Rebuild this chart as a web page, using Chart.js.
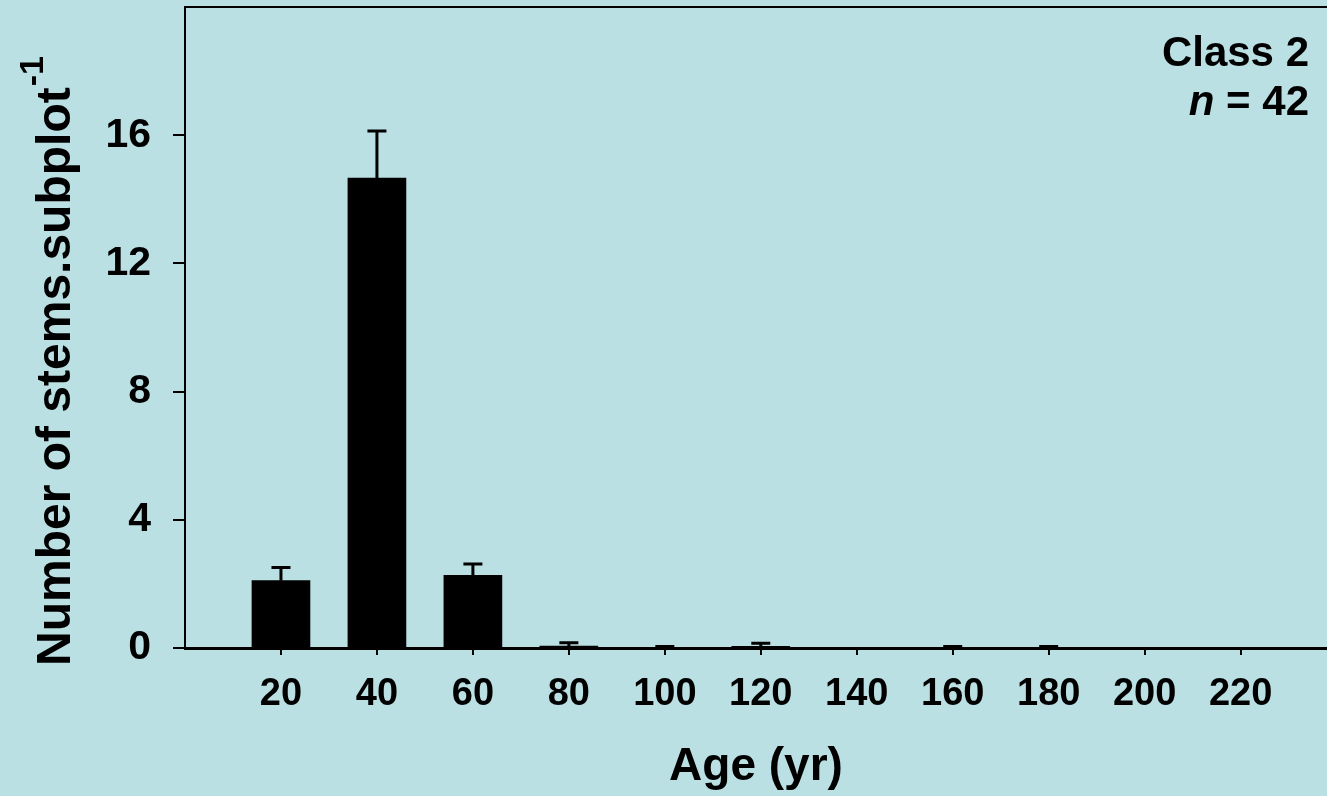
<!DOCTYPE html>
<html>
<head>
<meta charset="utf-8">
<script src="https://cdn.jsdelivr.net/npm/chart.js@4"></script>
<style>
  html, body { margin: 0; padding: 0; background: #bbe0e3; overflow: hidden; }
  #wrap { width: 1327px; height: 796px; position: relative; }
</style>
</head>
<body>
<div id="wrap"><canvas id="stemsChart"></canvas></div>
<script>
// Stems per subplot by age class (Class 2, n = 42)
const ages = [20, 40, 60, 80, 100, 120, 140, 160, 180, 200, 220];
const meanStems = [2.1, 14.66, 2.27, 0.06, 0, 0.05, 0, 0, 0, 0, 0];
const stdErrors = [0.41, 1.47, 0.35, 0.1, 0.05, 0.1, 0, 0.05, 0.05, 0, 0];
const xTickValues = [20, 40, 60, 80, 100, 120, 140, 160, 180, 200, 220];
const yTickValues = [0, 4, 8, 12, 16];

const FONT = '"Liberation Sans", Arial, Helvetica, sans-serif';

// error bars drawn on top of the bars
const errorBarPlugin = {
    id: 'errorBars',
    afterDatasetsDraw(chart) {
        const ctx = chart.ctx;
        const xs = chart.scales.x;
        const ys = chart.scales.y;
        ctx.save();
        ctx.strokeStyle = '#000';
        ctx.lineWidth = 3;
        ages.forEach((age, i) => {
            const err = stdErrors[i];
            if (!err) return;
            const px = xs.getPixelForValue(age);
            const yBase = ys.getPixelForValue(meanStems[i]);
            const yTop = ys.getPixelForValue(meanStems[i] + err);
            ctx.beginPath();
            ctx.moveTo(px, yBase);
            ctx.lineTo(px, yTop);
            ctx.moveTo(px - 9.5, yTop);
            ctx.lineTo(px + 9.5, yTop);
            ctx.stroke();
        });
        ctx.restore();
    }
};

// y title with superscript, and the class label in the corner
const labelsPlugin = {
    id: 'extraLabels',
    afterDraw(chart) {
        const ctx = chart.ctx;
        const area = chart.chartArea;
        ctx.save();
        ctx.fillStyle = '#000';

        // y axis title
        ctx.save();
        ctx.translate(70, 666);
        ctx.rotate(-Math.PI / 2);
        ctx.textAlign = 'left';
        ctx.textBaseline = 'alphabetic';
        ctx.font = 'bold 48px ' + FONT;
        const main = 'Number of stems.subplot';
        ctx.fillText(main, 0, 0);
        const w = ctx.measureText(main).width;
        ctx.font = 'bold 34px ' + FONT;
        ctx.fillText('-1', w + 1, -27);
        ctx.restore();

        // Class 2 / n = 42
        const rx = area.right - 18;
        ctx.textBaseline = 'alphabetic';
        ctx.textAlign = 'right';
        ctx.font = 'bold 42px ' + FONT;
        ctx.fillText('Class 2', rx, 66);
        const rest = ' = 42';
        ctx.fillText(rest, rx, 115);
        const rw = ctx.measureText(rest).width;
        ctx.font = 'italic bold 42px ' + FONT;
        ctx.fillText('n', rx - rw, 115);
        ctx.restore();
    }
};

const ctx = document.getElementById('stemsChart');

const chart = new Chart(ctx, {
    type: 'bar',
    data: {
        datasets: [{
            label: 'Number of stems',
            data: ages.map((a, i) => ({ x: a, y: meanStems[i] })),
            backgroundColor: '#000',
            borderWidth: 0,
            barThickness: 58
        }]
    },
    options: {
        responsive: true,
        maintainAspectRatio: false,
        animation: false,
        layout: { padding: { top: 7, right: 0, bottom: 0, left: 0 } },
        plugins: {
            legend: { display: false },
            tooltip: { enabled: false }
        },
        scales: {
            x: {
                type: 'linear',
                position: 'bottom',
                offset: false,
                min: 0,
                max: 238,
                afterBuildTicks: (scale) => {
                    scale.ticks = xTickValues.map(v => ({ value: v }));
                },
                afterFit: (scale) => {
                    scale.height = 148;
                    scale.paddingLeft = 0;
                    scale.paddingRight = 0;
                },
                grid: {
                    display: true,
                    offset: false,
                    drawOnChartArea: false,
                    drawTicks: true,
                    tickLength: 7,
                    color: '#000',
                    lineWidth: 2
                },
                border: { display: true, color: '#000', width: 3 },
                ticks: {
                    color: '#000',
                    padding: 17,
                    maxRotation: 0,
                    autoSkip: false,
                    font: { family: FONT, size: 38, weight: 'bold' }
                },
                title: {
                    display: true,
                    text: 'Age (yr)',
                    color: '#000',
                    padding: { top: 0, bottom: 1 },
                    font: { family: FONT, size: 46, weight: 'bold', lineHeight: 1.2 }
                }
            },
            x2: {
                type: 'linear',
                position: 'top',
                offset: false,
                min: 0,
                max: 238,
                grid: { display: false, drawTicks: false },
                ticks: { display: false },
                border: { display: true, color: '#000', width: 2 },
                afterFit: (scale) => {
                    scale.height = 0;
                    scale.paddingLeft = 0;
                    scale.paddingRight = 0;
                }
            },
            y: {
                min: 0,
                max: 20,
                afterBuildTicks: (scale) => {
                    scale.ticks = yTickValues.map(v => ({ value: v }));
                },
                afterFit: (scale) => {
                    scale.width = 185;
                    scale.paddingTop = 0;
                    scale.paddingBottom = 0;
                },
                grid: {
                    display: true,
                    drawOnChartArea: false,
                    drawTicks: true,
                    tickLength: 12,
                    color: '#000',
                    lineWidth: 2
                },
                border: { display: true, color: '#000', width: 2 },
                ticks: {
                    color: '#000',
                    padding: 22,
                    font: { family: FONT, size: 41, weight: 'bold' }
                }
            }
        }
    },
    plugins: [errorBarPlugin, labelsPlugin]
});

window.stemsChart = chart;
</script>
</body>
</html>
